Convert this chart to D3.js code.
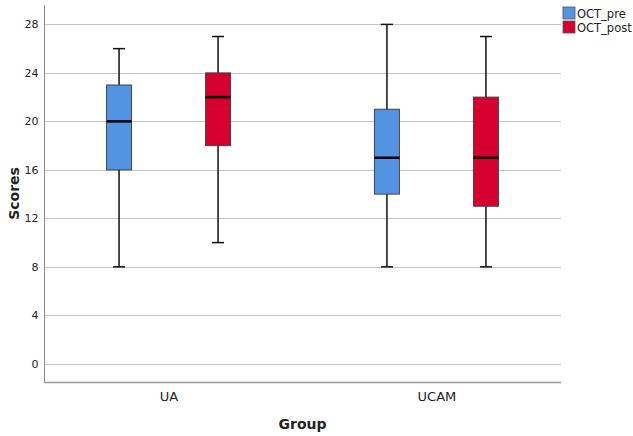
<!DOCTYPE html>
<meta charset="UTF-8">
<style>
body { margin: 0; background: #fff; }
text { font-family: "DejaVu Sans", sans-serif; fill: #222; }
.grid line { stroke: #c4c4c4; stroke-width: 1px; }
</style>
<body>
<div class="chart"></div>
<script src="https://d3js.org/d3.v7.min.js"></script>
<script>
// data
var groups = ["UA", "UCAM"];
var series = ["OCT_pre", "OCT_post"];
var colors = ["#5294e2", "#d5002f"];
var whiskerLow  = [[8, 10], [8, 8]];
var q1          = [[16, 18], [14, 13]];
var medians     = [[20, 22], [17, 17]];
var q3          = [[23, 24], [21, 22]];
var whiskerHigh = [[26, 27], [28, 27]];
var yTicks = [0, 4, 8, 12, 16, 20, 24, 28];

var width = 633, height = 436;
var plotL = 44, plotR = 561, plotT = 5, plotB = 382;

var svg = d3.select(".chart").append("svg")
    .attr("width", width)
    .attr("height", height);

var y = d3.scaleLinear().domain([-1.5, 29.6]).range([plotB, plotT]);
var x = d3.scalePoint().domain(groups).range([plotL, plotR]).padding(0.465);
var offset = d3.scalePoint().domain(series).range([-49.5, 49.5]);
var boxW = 25, capW = 12;

// gridlines
svg.append("g").attr("class", "grid")
  .selectAll("line").data(yTicks).enter().append("line")
    .attr("x1", plotL).attr("x2", plotR)
    .attr("y1", function (d) { return Math.round(y(d)) + 0.5; })
    .attr("y2", function (d) { return Math.round(y(d)) + 0.5; });

// axes
var yAxis = svg.append("g")
    .attr("transform", "translate(" + (plotL + 0.5) + ",0)")
    .call(d3.axisLeft(y).tickValues(yTicks).tickSize(0).tickPadding(6));
yAxis.select(".domain").attr("stroke", "#8a8a8a").attr("d", "M0," + plotT + "V" + plotB);
yAxis.selectAll("text").style("font-size", "11px").attr("fill", "#333");

var xAxis = svg.append("g")
    .attr("transform", "translate(0," + (plotB + 0.5) + ")")
    .call(d3.axisBottom(x).tickSize(0).tickPadding(9));
xAxis.select(".domain").attr("stroke", "#9a9a9a").attr("stroke-width", 1.5)
    .attr("d", "M" + plotL + ",0H" + plotR);
xAxis.selectAll("text").style("font-size", "13px").attr("fill", "#222");

svg.append("text")
    .attr("transform", "translate(19," + ((plotT + plotB) / 2) + ") rotate(-90)")
    .attr("text-anchor", "middle")
    .style("font-size", "14px").style("font-weight", "bold")
    .text("Scores");

svg.append("text")
    .attr("x", (plotL + plotR) / 2).attr("y", 429)
    .attr("text-anchor", "middle")
    .style("font-size", "14px").style("font-weight", "bold")
    .text("Group");

// boxes
var boxes = [];
groups.forEach(function (g, gi) {
  series.forEach(function (s, si) {
    boxes.push({ g: g, s: s, si: si,
      lo: whiskerLow[gi][si], q1: q1[gi][si], med: medians[gi][si],
      q3: q3[gi][si], hi: whiskerHigh[gi][si] });
  });
});

var b = svg.selectAll(".box").data(boxes).enter().append("g")
    .attr("class", "box")
    .attr("transform", function (d) { return "translate(" + (x(d.g) + offset(d.s)) + ",0)"; });

b.append("line")
    .attr("x1", 0).attr("x2", 0)
    .attr("y1", function (d) { return y(d.hi); })
    .attr("y2", function (d) { return y(d.lo); })
    .attr("stroke", "#111").attr("stroke-width", 1.5);

b.append("line").attr("x1", -capW / 2).attr("x2", capW / 2)
    .attr("y1", function (d) { return y(d.hi); }).attr("y2", function (d) { return y(d.hi); })
    .attr("stroke", "#111").attr("stroke-width", 1.5);
b.append("line").attr("x1", -capW / 2).attr("x2", capW / 2)
    .attr("y1", function (d) { return y(d.lo); }).attr("y2", function (d) { return y(d.lo); })
    .attr("stroke", "#111").attr("stroke-width", 1.5);

b.append("rect")
    .attr("x", -boxW / 2).attr("width", boxW)
    .attr("y", function (d) { return y(d.q3); })
    .attr("height", function (d) { return y(d.q1) - y(d.q3); })
    .attr("fill", function (d) { return colors[d.si]; })
    .attr("stroke", "#444").attr("stroke-width", 1);

b.append("line").attr("x1", -boxW / 2).attr("x2", boxW / 2)
    .attr("y1", function (d) { return y(d.med); }).attr("y2", function (d) { return y(d.med); })
    .attr("stroke", "#000").attr("stroke-width", 2.5);

// legend
var leg = svg.selectAll(".leg").data(series).enter().append("g")
    .attr("transform", function (d, i) { return "translate(563," + (7 + i * 14) + ")"; });
leg.append("rect").attr("width", 12).attr("height", 12)
    .attr("fill", function (d, i) { return colors[i]; })
    .attr("stroke", "#555").attr("stroke-width", 0.8);
leg.append("text").attr("x", 14).attr("y", 10.5)
    .style("font-size", "11.5px").attr("fill", "#222")
    .text(function (d) { return d; });
</script>
</body>
